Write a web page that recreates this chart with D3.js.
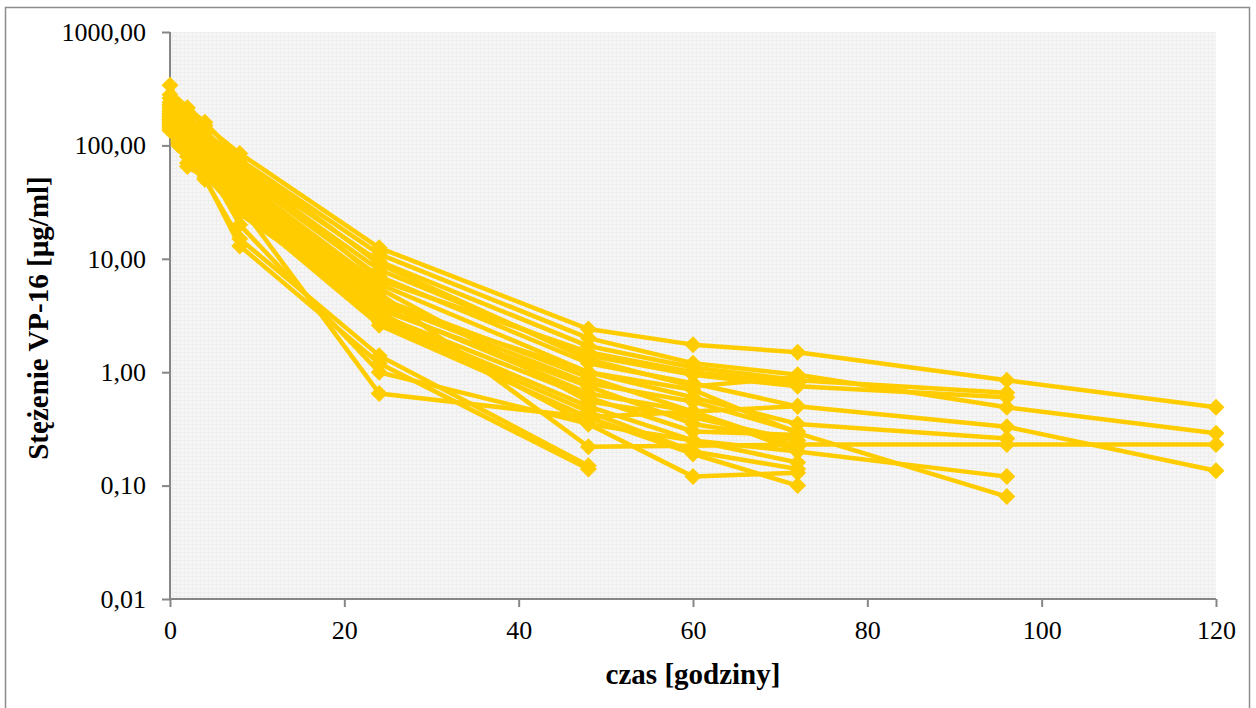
<!DOCTYPE html>
<html><head><meta charset="utf-8">
<script src="https://cdn.jsdelivr.net/npm/d3@7"></script>
<style>body{margin:0;background:#fff}svg{display:block}</style>
</head><body><svg id="c" width="1256" height="708"></svg>
<script>
const times = [0,1,2,4,8,24,48,60,72,96,120];
const yTicks = [0.01,0.1,1,10,100,1000];
const xTicks = [0,20,40,60,80,100,120];
const p01 = [340,230,200,150,85,12.5,2.4,1.75,1.5,0.85,0.49];
const p02 = [280,220,215,160,75,11,2.0,1.2,0.95,0.49,0.29];
const p03 = [260,200,180,130,65,9.5,1.7,1.1,0.85,0.66,null];
const p04 = [230,190,170,120,60,8,1.4,0.95,0.75,0.60,null];
const p05 = [210,170,150,110,55,7,1.2,0.8,0.5,0.33,0.135];
const p06 = [200,160,140,100,50,6,1.0,0.6,0.35,0.26,null];
const p07 = [190,150,130,95,45,5,0.22,null,0.23,0.23,0.23];
const p08 = [180,140,120,90,42,4.5,0.9,0.45,0.2,0.12,null];
const p09 = [170,135,110,85,40,4,1.0,0.7,0.29,0.08,null];
const p10 = [165,130,105,80,38,3.6,0.75,0.35,0.25,null,null];
const p11 = [160,125,100,75,35,3.2,0.6,0.3,0.28,null,null];
const p12 = [155,120,95,70,32,3.0,0.5,0.25,0.16,null,null];
const p13 = [150,115,90,65,30,2.8,0.45,0.2,0.14,null,null];
const p14 = [145,110,85,60,28,2.6,0.4,0.19,0.1,null,null];
const p15 = [140,105,80,55,25,3.4,0.35,0.12,0.13,null,null];
const p16 = [135,100,70,50,15,1.4,0.15,null,null,null,null];
const p17 = [150,110,65,52,13,1.2,0.14,null,null,null,null];
const p18 = [175,140,100,70,20,1.0,0.35,0.25,0.2,null,null];
const p19 = [190,150,110,80,30,0.65,0.4,0.45,0.5,null,null];
const p20 = [220,180,160,120,70,6.5,1.5,1.0,0.8,null,null];
const p21 = [240,200,170,130,75,9,1.3,0.75,0.9,null,null];
const p22 = [200,160,130,100,55,4.2,0.8,0.55,0.3,null,null];
const p23 = [185,145,120,90,48,5.5,0.55,0.4,0.25,null,null];
const p24 = [170,130,110,85,45,3.8,0.65,0.45,0.22,null,null];
const series = [p01,p02,p03,p04,p05,p06,p07,p08,p09,p10,p11,p12,p13,p14,p15,p16,p17,p18,p19,p20,p21,p22,p23,p24];

const svg = d3.select("#c");
const L=170,R=1216,T=32,B=599;
const x = d3.scaleLinear().domain([0,120]).range([L,R]);
const y = d3.scaleLog().domain([0.01,1000]).range([B,T]);
const gold = "#FFCC00";
const serif = "'Liberation Serif','Times New Roman',serif";

svg.append("rect").attr("x",5.5).attr("y",7.5).attr("width",1244).attr("height",705)
  .attr("fill","none").attr("stroke","#8c8c8c").attr("stroke-width",1.5);

const defs = svg.append("defs");
const pat = defs.append("pattern").attr("id","gp").attr("width",4).attr("height",4).attr("patternUnits","userSpaceOnUse");
pat.append("rect").attr("width",4).attr("height",4).attr("fill","#f6f6f6");
pat.append("rect").attr("width",4).attr("height",1).attr("fill","#eeeeee");
pat.append("rect").attr("width",1).attr("height",4).attr("fill","#eeeeee");
svg.append("rect").attr("x",L).attr("y",T).attr("width",R-L).attr("height",B-T).attr("fill","url(#gp)");

const fmt = v => d3.format(".2f")(v).replace(".",",");
const ya = svg.append("g").attr("transform",`translate(${L},0)`)
  .call(d3.axisLeft(y).tickValues(yTicks).tickFormat(fmt).tickSize(8).tickPadding(16));
const xa = svg.append("g").attr("transform",`translate(0,${B})`)
  .call(d3.axisBottom(x).tickValues(xTicks).tickSize(8).tickPadding(14));
[ya,xa].forEach(a=>{
  a.selectAll("path,line").attr("stroke","#868686").attr("stroke-width",2);
  a.selectAll("text").attr("font-family",serif).attr("font-size",26).attr("fill","#000");
});
ya.select(".domain").attr("d",`M0,${B}V${T}`);
xa.select(".domain").attr("d",`M${L},0H${R}`);

const line = d3.line().defined(d=>d[1]!=null).x(d=>x(d[0])).y(d=>y(d[1]));
const diamond = "M0,-8.5L8.5,0L0,8.5L-8.5,0Z";
series.forEach(s=>{
  const pts = times.map((t,i)=>[t,s[i]]).filter(d=>d[1]!=null);
  svg.append("path").datum(pts).attr("d",line).attr("fill","none")
    .attr("stroke",gold).attr("stroke-width",4.5).attr("stroke-linejoin","round");
});
series.forEach(s=>{
  const pts = times.map((t,i)=>[t,s[i]]).filter(d=>d[1]!=null);
  svg.append("g").selectAll("path").data(pts).join("path")
    .attr("d",diamond).attr("transform",d=>`translate(${x(d[0])},${y(d[1])})`).attr("fill",gold);
});

svg.append("text").attr("x",693).attr("y",684).attr("text-anchor","middle")
  .attr("font-family",serif).attr("font-weight","bold").attr("font-size",29)
  .text("czas [godziny]");
svg.append("text").attr("transform",`translate(48,318) rotate(-90)`).attr("text-anchor","middle")
  .attr("font-family",serif).attr("font-weight","bold").attr("font-size",29)
  .text("Stężenie VP-16 [µg/ml]");
</script></body></html>
